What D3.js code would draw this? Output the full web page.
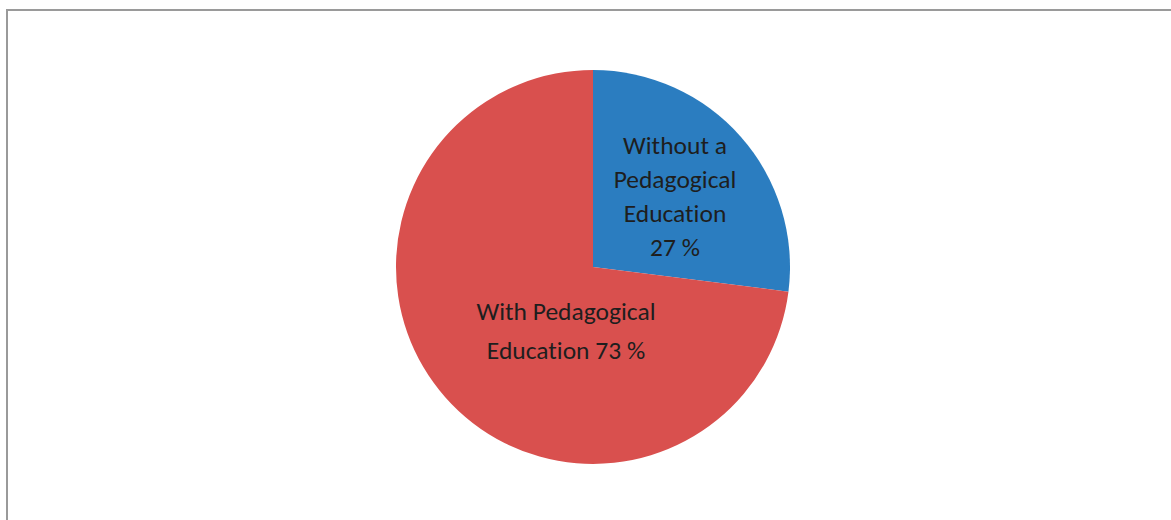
<!DOCTYPE html>
<html><head><meta charset="utf-8">
<script src="https://cdn.jsdelivr.net/npm/d3@7"></script>
<style>html,body{margin:0;padding:0;background:#fff;overflow:hidden}</style>
</head><body>
<svg id="c" width="1171" height="520"></svg>
<script>
const categories = ["Without a Pedagogical Education", "With Pedagogical Education"];
const values = [27, 73];
const labelLines = [["Without a", "Pedagogical", "Education", "27 %"], ["With Pedagogical", "Education 73 %"]];
const colors = ["#2b7dc0", "#d9504e"];

const svg = d3.select("#c");
svg.append("rect").attr("x", 7).attr("y", 10).attr("width", 1200).attr("height", 600)
  .attr("fill", "none").attr("stroke", "#9a9a9a").attr("stroke-width", 2);

const cx = 593, cy = 267, r = 197;
const pie = d3.pie().sort(null).value(d => d)(values);
const arc = d3.arc().innerRadius(0).outerRadius(r);
const g = svg.append("g").attr("transform", `translate(${cx},${cy})`);
g.selectAll("path").data(pie).join("path").attr("d", arc).attr("fill", (d, i) => colors[i]);

const labelPos = [[82, -122], [-27, 44]];
pie.forEach((d, i) => {
  const lines = labelLines[i];
  const t = g.append("text").attr("text-anchor", "middle")
    .attr("font-family", "Carlito, Lato, 'Open Sans', sans-serif").attr("font-size", 25.5)
    .style("font-variant-ligatures", "none").attr("fill", "#1e1e1e");
  const spacing = i === 0 ? 34 : 39;
  lines.forEach((s, k) => {
    t.append("tspan").attr("x", labelPos[i][0]).attr("y", labelPos[i][1] + k * spacing).attr("dy", "0.35em").text(s);
  });
});
</script>
</body></html>
